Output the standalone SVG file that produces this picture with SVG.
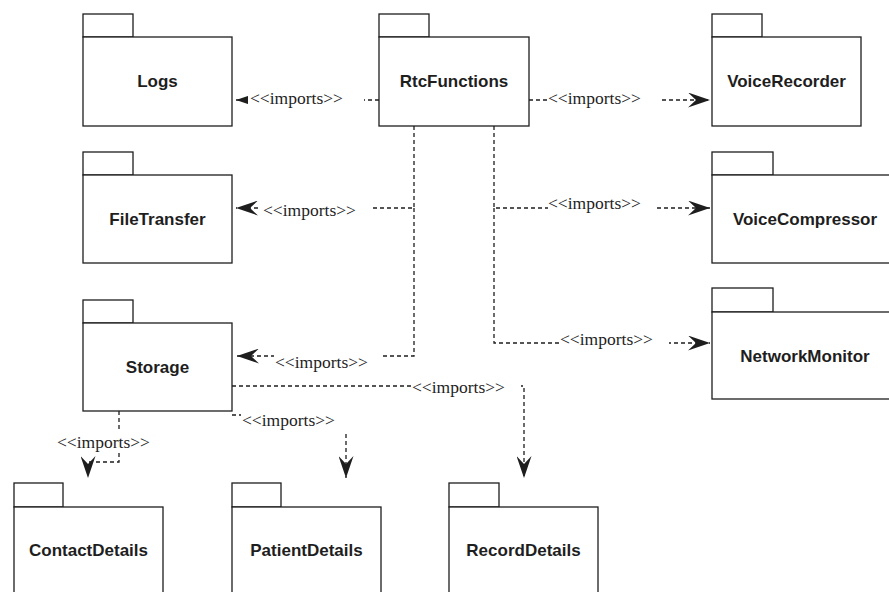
<svg xmlns="http://www.w3.org/2000/svg" width="889" height="592" viewBox="0 0 889 592">
<style>
.box{fill:#fff;stroke:#1e1e1e;stroke-width:1.3}
.name{font-family:"Liberation Sans",Arial,sans-serif;font-weight:bold;font-size:17px;fill:#1e1e1e;text-anchor:middle}
.dep{fill:none;stroke:#1e1e1e;stroke-width:1.3;stroke-dasharray:4,3;marker-end:url(#arr)}
.lblbg{fill:#fff;stroke:none}
.lbl{font-family:"Liberation Serif","Times New Roman",serif;font-size:17.5px;fill:#1e1e1e}
</style>
<defs>
<marker id="arr" markerUnits="userSpaceOnUse" viewBox="0 0 22 15" refX="22" refY="7.5" markerWidth="22" markerHeight="15" orient="auto">
<path d="M0,0 L22,7.5 L0,15 L8,7.5 Z" fill="#1e1e1e"/>
</marker>
</defs>
<rect width="889" height="592" fill="#fff"/>
<g id="connectors">
<path class="dep" d="M379,100 H236"/>
<path class="dep" d="M529,100 H710"/>
<path class="dep" d="M414,126 V208 H236"/>
<path class="dep" d="M414,208 V356 H237"/>
<path class="dep" d="M494,126 V208 H710"/>
<path class="dep" d="M494,208 V343 H710"/>
<path class="dep" d="M232,386 H524 V478"/>
<path class="dep" d="M232,415 H346 V478"/>
<path class="dep" d="M119,411 V462 H88 V478"/>
<g id="labels">
<rect class="lblbg" x="248" y="88" width="116" height="22"/>
<text class="lbl" x="250" y="104">&lt;&lt;imports&gt;&gt;</text>
<rect class="lblbg" x="547" y="88" width="114" height="22"/>
<text class="lbl" x="548" y="104">&lt;&lt;imports&gt;&gt;</text>
<rect class="lblbg" x="259" y="198" width="113" height="22"/>
<text class="lbl" x="263" y="216">&lt;&lt;imports&gt;&gt;</text>
<rect class="lblbg" x="548" y="193" width="109" height="22"/>
<text class="lbl" x="548" y="209">&lt;&lt;imports&gt;&gt;</text>
<rect class="lblbg" x="559" y="329" width="110" height="22"/>
<text class="lbl" x="560" y="345">&lt;&lt;imports&gt;&gt;</text>
<rect class="lblbg" x="274" y="350" width="108" height="24"/>
<text class="lbl" x="275" y="368">&lt;&lt;imports&gt;&gt;</text>
<rect class="lblbg" x="411" y="375" width="110" height="23"/>
<text class="lbl" x="412" y="393">&lt;&lt;imports&gt;&gt;</text>
<rect class="lblbg" x="241" y="408" width="109" height="24"/>
<text class="lbl" x="242" y="426">&lt;&lt;imports&gt;&gt;</text>
<rect class="lblbg" x="55" y="429" width="97" height="23"/>
<text class="lbl" x="57" y="448">&lt;&lt;imports&gt;&gt;</text>
</g>
</g>
<g id="Logs"><rect class="box" x="83" y="14" width="50" height="23"/><rect class="box" x="83" y="37" width="149" height="89"/><text class="name" x="157.5" y="87">Logs</text></g>
<g id="RtcFunctions"><rect class="box" x="379" y="14" width="50" height="23"/><rect class="box" x="379" y="37" width="150" height="89"/><text class="name" x="454" y="87">RtcFunctions</text></g>
<g id="VoiceRecorder"><rect class="box" x="712" y="14" width="50" height="23"/><rect class="box" x="712" y="37" width="149" height="89"/><text class="name" x="786.5" y="87">VoiceRecorder</text></g>
<g id="FileTransfer"><rect class="box" x="83" y="152" width="50" height="23"/><rect class="box" x="83" y="175" width="149" height="88"/><text class="name" x="157.5" y="225">FileTransfer</text></g>
<g id="VoiceCompressor"><rect class="box" x="712" y="152" width="61" height="23"/><rect class="box" x="712" y="175" width="186" height="88"/><text class="name" x="805" y="225">VoiceCompressor</text></g>
<g id="NetworkMonitor"><rect class="box" x="712" y="288" width="61" height="24"/><rect class="box" x="712" y="312" width="186" height="87"/><text class="name" x="805" y="362">NetworkMonitor</text></g>
<g id="Storage"><rect class="box" x="83" y="300" width="50" height="23"/><rect class="box" x="83" y="323" width="149" height="88"/><text class="name" x="157.5" y="373">Storage</text></g>
<g id="ContactDetails"><rect class="box" x="14" y="483" width="49" height="24"/><rect class="box" x="14" y="507" width="149" height="95"/><text class="name" x="88.5" y="556">ContactDetails</text></g>
<g id="PatientDetails"><rect class="box" x="232" y="483" width="49" height="24"/><rect class="box" x="232" y="507" width="149" height="95"/><text class="name" x="306.5" y="556">PatientDetails</text></g>
<g id="RecordDetails"><rect class="box" x="449" y="483" width="50" height="24"/><rect class="box" x="449" y="507" width="149" height="95"/><text class="name" x="523.5" y="556">RecordDetails</text></g>
</svg>
